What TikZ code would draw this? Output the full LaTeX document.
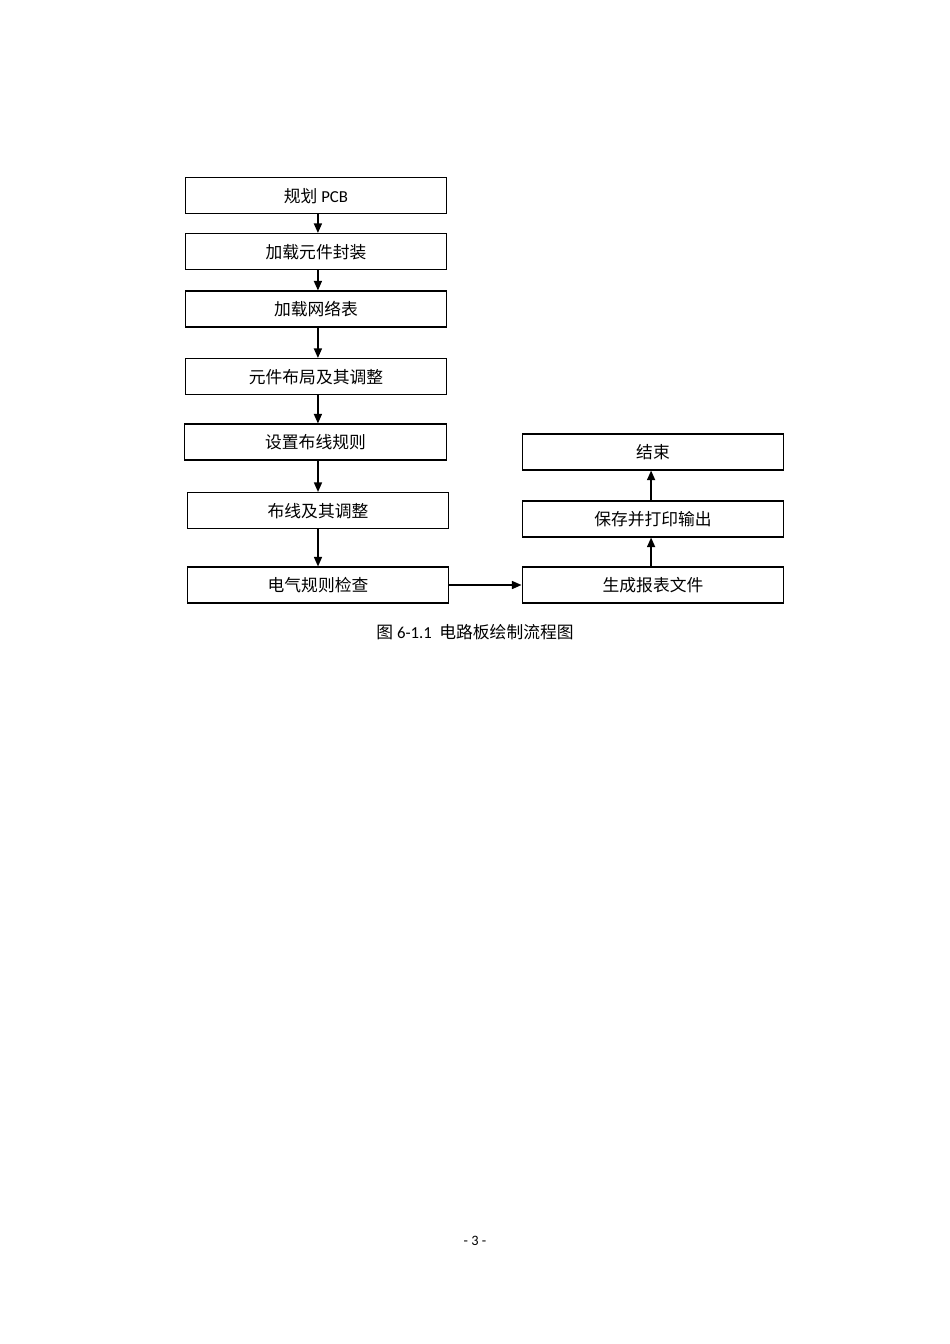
\documentclass[tikz,border=0pt]{standalone}
\usepackage{fontspec}
\setmainfont{Carlito}
\newfontfamily\cjk{Noto Sans CJK SC}
\usetikzlibrary{arrows.meta}

\tikzset{
    stepbox/.style={draw,line width=0.7pt,minimum width=164pt,minimum height=22.5pt,inner sep=0pt,text depth=0.5pt,font=\fontsize{10.5}{12}\selectfont},
    flow/.style={line width=1pt,-{Triangle[length=6pt,width=5pt]}}
}

\begin{document}
\begin{tikzpicture}[x=0.6263pt,y=-0.6263pt]
        % page
        \useasboundingbox[fill=white] (0,0) rectangle (950,1344);

        % left column
        \node[stepbox] (plan) at (316,195.5) {{\cjk 规划} PCB};
        \node[stepbox] (footprint) at (316,251.5) {\cjk 加载元件封装};
        \node[stepbox] (netlist) at (316,309) {\cjk 加载网络表};
        \node[stepbox] (layout) at (316,376.5) {\cjk 元件布局及其调整};
        \node[stepbox] (rules) at (315.5,442) {\cjk 设置布线规则};
        \node[stepbox] (routing) at (318,510.5) {\cjk 布线及其调整};
        \node[stepbox] (drc) at (318,585) {\cjk 电气规则检查};

        % right column
        \node[stepbox] (report) at (653,585) {\cjk 生成报表文件};
        \node[stepbox] (output) at (653,519) {\cjk 保存并打印输出};
        \node[stepbox] (finish) at (653,452) {\cjk 结束};

        % arrows
        \foreach \a/\b in {plan/footprint,footprint/netlist,netlist/layout,layout/rules}
            \draw[flow] ([xshift=1.2pt]\a.south) -- ([xshift=1.2pt]\a.south |- \b.north);
        \foreach \a/\b in {rules/routing,routing/drc}
            \draw[flow] (\b.north |- \a.south) -- (\b.north);
        \draw[flow] (drc) -- (report);
        \draw[flow] ([xshift=-1.2pt]report.north) -- ([xshift=-1.2pt]report.north |- output.south);
        \draw[flow] ([xshift=-1.2pt]output.north) -- ([xshift=-1.2pt]output.north |- finish.south);

        % caption
        \node[font=\fontsize{10.5}{12}\selectfont] (caption) at (475,632) {{\cjk 图} 6-1.1\ \ {\cjk 电路板绘制流程图}};

        % page number
        \node[font=\fontsize{9}{11}\selectfont] (pageno) at (475,1241) {- 3 -};
\end{tikzpicture}
\end{document}
